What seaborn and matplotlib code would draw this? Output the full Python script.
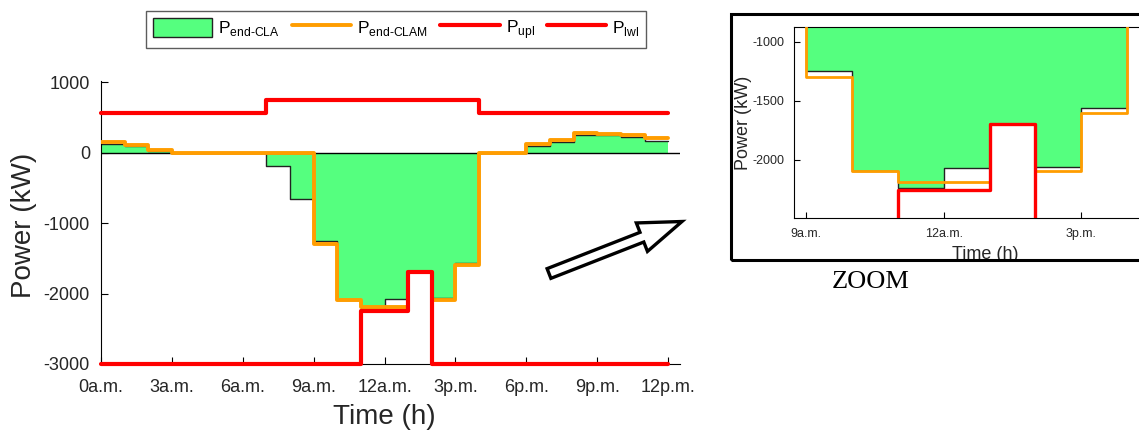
import matplotlib
matplotlib.use("Agg")
import numpy as np
import pandas as pd
import seaborn as sns
from matplotlib import pyplot as plt
from matplotlib.patches import Rectangle, Patch, FancyArrowPatch
from matplotlib.lines import Line2D
from matplotlib.transforms import Bbox

# hourly values (kW), one value per hour 0..23
hours = list(range(25))
p_cla = [120, 100, 25, 0, 0, 0, 0, -190, -650, -1250, -2090, -2240,
         -2070, -1700, -2060, -1560, 0, 0, 100, 150, 255, 255, 220, 170]
p_clam = [155, 115, 35, 0, 0, 0, 0, 0, 0, -1300, -2090, -2190,
          -2190, -1700, -2090, -1600, 0, 0, 132, 184, 288, 274, 246, 208]
p_upl = [563, 563, 563, 563, 563, 563, 563, 750, 750, 750, 750, 750,
         750, 750, 750, 750, 563, 563, 563, 563, 563, 563, 563, 563]
p_lwl = [-3000, -3000, -3000, -3000, -3000, -3000, -3000, -3000, -3000, -3000, -3000, -2250,
         -2250, -1700, -3000, -3000, -3000, -3000, -3000, -3000, -3000, -3000, -3000, -3000]
tick_hours = [0, 3, 6, 9, 12, 15, 18, 21, 24]
tick_labels = ['0a.m.', '3a.m.', '6a.m.', '9a.m.', '12a.m.', '3p.m.', '6p.m.', '9p.m.', '12p.m.']
zoom_ticks = [9, 12, 15]
zoom_labels = ['9a.m.', '12a.m.', '3p.m.']

# steps-post needs the last value repeated at hour 24
df = pd.DataFrame({
    'hour': hours,
    'cla': p_cla + p_cla[-1:],
    'clam': p_clam + p_clam[-1:],
    'upl': p_upl + p_upl[-1:],
    'lwl': p_lwl + p_lwl[-1:],
})

GREEN = '#55ff7f'
ORANGE = '#ff9d00'
RED = '#ff0000'
TXT = '#262626'

sns.set_theme(style='white')
plt.rcParams['font.family'] = ['Liberation Sans', 'DejaVu Sans']
plt.rcParams['mathtext.fontset'] = 'custom'
plt.rcParams['mathtext.rm'] = 'Liberation Sans'
plt.rcParams['axes.unicode_minus'] = False
plt.rcParams['xtick.direction'] = 'in'
plt.rcParams['ytick.direction'] = 'in'
plt.rcParams['xtick.bottom'] = True
plt.rcParams['ytick.left'] = True


def draw(ax, lw_o, lw_r, clip_red):
    ax.fill_between(df.hour, 0, df.cla, step='post', color=GREEN, lw=0, zorder=1)
    sns.lineplot(data=df, x='hour', y='cla', drawstyle='steps-post', color='#222222',
                 lw=1, ax=ax, zorder=2)
    sns.lineplot(data=df, x='hour', y='clam', drawstyle='steps-post', color=ORANGE,
                 lw=lw_o, ax=ax, zorder=3)
    sns.lineplot(data=df, x='hour', y='upl', drawstyle='steps-post', color=RED,
                 lw=lw_r, ax=ax, zorder=4, clip_on=clip_red)
    sns.lineplot(data=df, x='hour', y='lwl', drawstyle='steps-post', color=RED,
                 lw=lw_r, ax=ax, zorder=4, clip_on=clip_red)


fig = plt.figure(figsize=(11.39, 4.32), dpi=100)

# main chart
ax = fig.add_axes([101 / 1139, 1 - 364 / 432, 579 / 1139, 283 / 432])
draw(ax, 2.8, 3.0, False)
ax.axhline(0, color='black', lw=1, zorder=2)
ax.set_xlim(0, 24.5)
ax.set_ylim(-3000, 1020)
ax.set_xticks(tick_hours)
ax.set_xticklabels(tick_labels)
ax.set_yticks([-3000, -2000, -1000, 0, 1000])
ax.tick_params(labelsize=13, colors='black', labelcolor=TXT, length=5, width=0.8)
ax.tick_params(axis='x', pad=11)
ax.tick_params(axis='y', pad=8)
for s in ['top', 'right']:
    ax.spines[s].set_visible(False)
for s in ['left', 'bottom']:
    ax.spines[s].set_color('black')
    ax.spines[s].set_linewidth(0.8)
ax.set_xlabel('Time (h)', fontsize=20, color=TXT)
ax.set_ylabel('Power (kW)', fontsize=20, color=TXT)
ax.xaxis.set_label_coords(0.49, -0.14)
ax.yaxis.set_label_coords(-0.11, 0.49)

handles = [
    Patch(facecolor=GREEN, edgecolor='#222222', lw=1),
    Line2D([], [], color=ORANGE, lw=2.8),
    Line2D([], [], color=RED, lw=3),
    Line2D([], [], color=RED, lw=3),
]
labels = [r'P$_{\text{end-CLA}}$', r'P$_{\text{end-CLAM}}$', r'P$_{\text{upl}}$', r'P$_{\text{lwl}}$']
leg = fig.legend(handles, labels, loc='center', bbox_to_anchor=(0.348, 0.932), ncol=4,
                 fontsize=12.5, frameon=True, fancybox=False, handlelength=3.4,
                 handleheight=1.3, handletextpad=0.35, columnspacing=0.7, borderpad=0.4,
                 edgecolor='#333333')
leg.get_frame().set_linewidth(1)
for t in leg.get_texts():
    t.set_color('black')

# zoomed view
axz = fig.add_axes([794.3 / 1139, 1 - 218.3 / 432, 356 / 1139, 191 / 432])
draw(axz, 2.0, 2.4, True)
axz.set_xlim(8.75, 16.5)
axz.set_ylim(-2493, -879)
axz.set_xticks(zoom_ticks)
axz.set_xticklabels(zoom_labels)
axz.set_yticks([-2000, -1500, -1000])
axz.tick_params(labelsize=9, colors='black', labelcolor=TXT, length=4, width=0.8)
axz.tick_params(axis='x', pad=7)
axz.tick_params(axis='y', pad=7)
for s in axz.spines.values():
    s.set_color('black')
    s.set_linewidth(0.8)
axz.set_xlabel('Time (h)', fontsize=13, color=TXT)
axz.set_ylabel('Power (kW)', fontsize=13, color=TXT)
axz.xaxis.set_label_coords(0.536, -0.145)
axz.yaxis.set_label_coords(-0.118, 0.5)
axz.xaxis.label.set_clip_box(Bbox.from_extents(0, 432 - 259, 1139, 432))
axz.xaxis.label.set_clip_on(True)

frame = Rectangle((731 / 1139, 1 - 260 / 432), 420 / 1139, 246 / 432, transform=fig.transFigure,
                  fill=False, ec='black', lw=2.2, zorder=10, clip_on=False)
fig.add_artist(frame)

fig.text(871 / 1139, 1 - 282 / 432, 'ZOOM', family=['Liberation Serif', 'DejaVu Serif'],
         fontsize=19, color='black', ha='center', va='center')

arrow = FancyArrowPatch((549 / 1139, 1 - 273.5 / 432), (682 / 1139, 1 - 221.5 / 432),
                        transform=fig.transFigure,
                        arrowstyle='simple,head_length=31,head_width=22,tail_width=7.5',
                        fc='white', ec='black', lw=2.4, shrinkA=0, shrinkB=0,
                        mutation_scale=1, joinstyle='miter')
fig.add_artist(arrow)

fig.savefig('out.png', dpi=100)
plt.close()
